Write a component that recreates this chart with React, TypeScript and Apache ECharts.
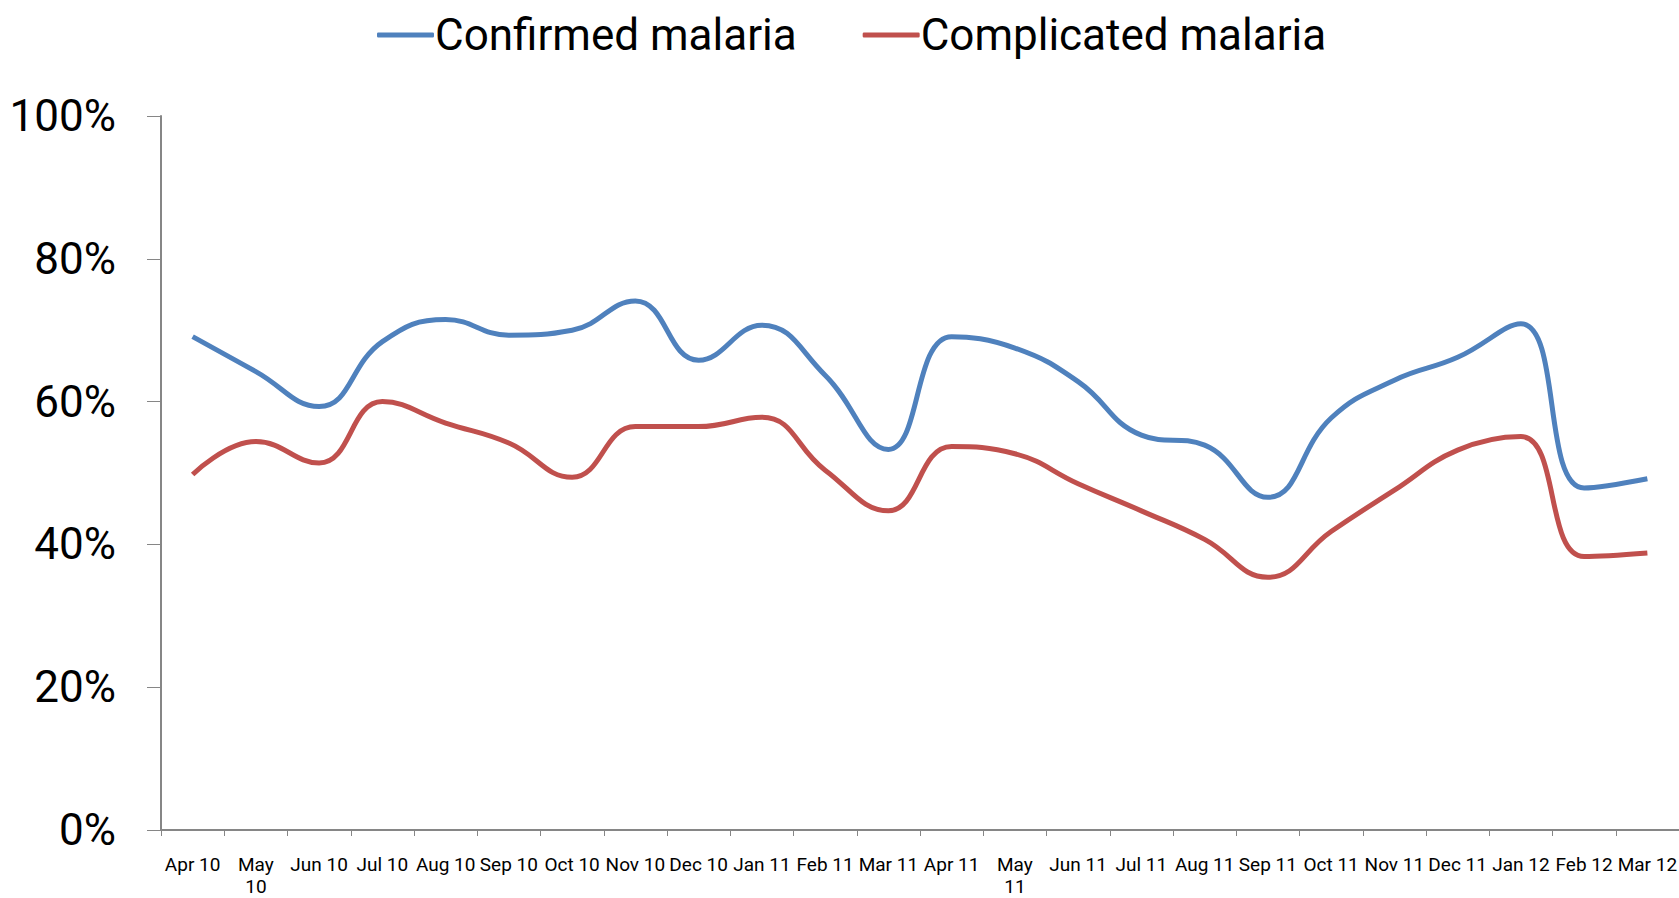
import React, { useEffect, useRef } from "react";
import * as echarts from "echarts";

const categories = [
  "Apr 10", "May 10", "Jun 10", "Jul 10", "Aug 10", "Sep 10", "Oct 10", "Nov 10",
  "Dec 10", "Jan 11", "Feb 11", "Mar 11", "Apr 11", "May 11", "Jun 11", "Jul 11",
  "Aug 11", "Sep 11", "Oct 11", "Nov 11", "Dec 11", "Jan 12", "Feb 12", "Mar 12",
];

const confirmed = [
  69.1, 64.2, 59.3, 68.4, 71.5, 69.3, 70.0, 74.1, 65.8, 70.7, 63.7, 53.3,
  69.1, 67.5, 62.8, 55.3, 53.9, 46.6, 57.7, 63.0, 66.2, 70.9, 47.9, 49.2,
];

const complicated = [
  49.8, 54.4, 51.4, 60.0, 57.0, 54.2, 49.4, 56.5, 56.5, 57.8, 50.4, 44.7,
  53.7, 52.7, 48.5, 44.7, 40.7, 35.4, 41.8, 47.6, 53.2, 55.1, 38.3, 38.8,
];

const yTicks = { min: 0, max: 100, interval: 20 };

const FONT = 'Roboto, "Liberation Sans", sans-serif';

export default function App() {
  const ref = useRef<HTMLDivElement>(null);

  useEffect(() => {
    if (!ref.current) return;
    const chart = echarts.init(ref.current, null, { renderer: "svg" });
    chart.setOption({
      animation: false,
      backgroundColor: "#ffffff",
      legend: {
        left: 377,
        top: 13,
        padding: 0,
        itemWidth: 57,
        itemHeight: 5,
        itemGap: 66,
        icon: "roundRect",
        textStyle: {
          fontFamily: FONT,
          fontSize: 44,
          color: "#000000",
          padding: [0, 0, 0, -4],
        },
        data: ["Confirmed malaria", "Complicated malaria"],
      },
      grid: {
        left: 161,
        right: 0,
        top: 116,
        bottom: 68,
        containLabel: false,
        outerBoundsMode: "none",
      },
      xAxis: {
        type: "category",
        data: categories,
        boundaryGap: true,
        axisLine: { show: true, lineStyle: { color: "#868686", width: 2 } },
        axisTick: { show: true, length: 6, lineStyle: { color: "#868686", width: 1 } },
        axisLabel: {
          interval: 0,
          margin: 23,
          fontFamily: FONT,
          fontSize: 19,
          color: "#000000",
          lineHeight: 22,
          hideOverlap: false,
          formatter: (v: string) => (v.startsWith("May") ? v.replace(" ", "\n") : v),
        },
        splitLine: { show: false },
      },
      yAxis: {
        type: "value",
        min: yTicks.min,
        max: yTicks.max,
        interval: yTicks.interval,
        axisLine: { show: true, lineStyle: { color: "#868686", width: 2 } },
        axisTick: { show: true, length: 14, lineStyle: { color: "#868686", width: 1 } },
        axisLabel: {
          margin: 45,
          fontFamily: FONT,
          fontSize: 44,
          color: "#000000",
          formatter: "{value}%",
        },
        splitLine: { show: false },
      },
      series: [
        {
          name: "Confirmed malaria",
          type: "line",
          data: confirmed,
          smooth: 0.45,
          symbol: "none",
          lineStyle: { color: "#4F81BD", width: 5 },
          itemStyle: { color: "#4F81BD" },
        },
        {
          name: "Complicated malaria",
          type: "line",
          data: complicated,
          smooth: 0.45,
          symbol: "none",
          lineStyle: { color: "#C0504D", width: 5 },
          itemStyle: { color: "#C0504D" },
        },
      ],
    });
    return () => chart.dispose();
  }, []);

  return (
    <div
      ref={ref}
      style={{ position: "absolute", left: 0, top: 0, width: 1679, height: 898 }}
    />
  );
}
